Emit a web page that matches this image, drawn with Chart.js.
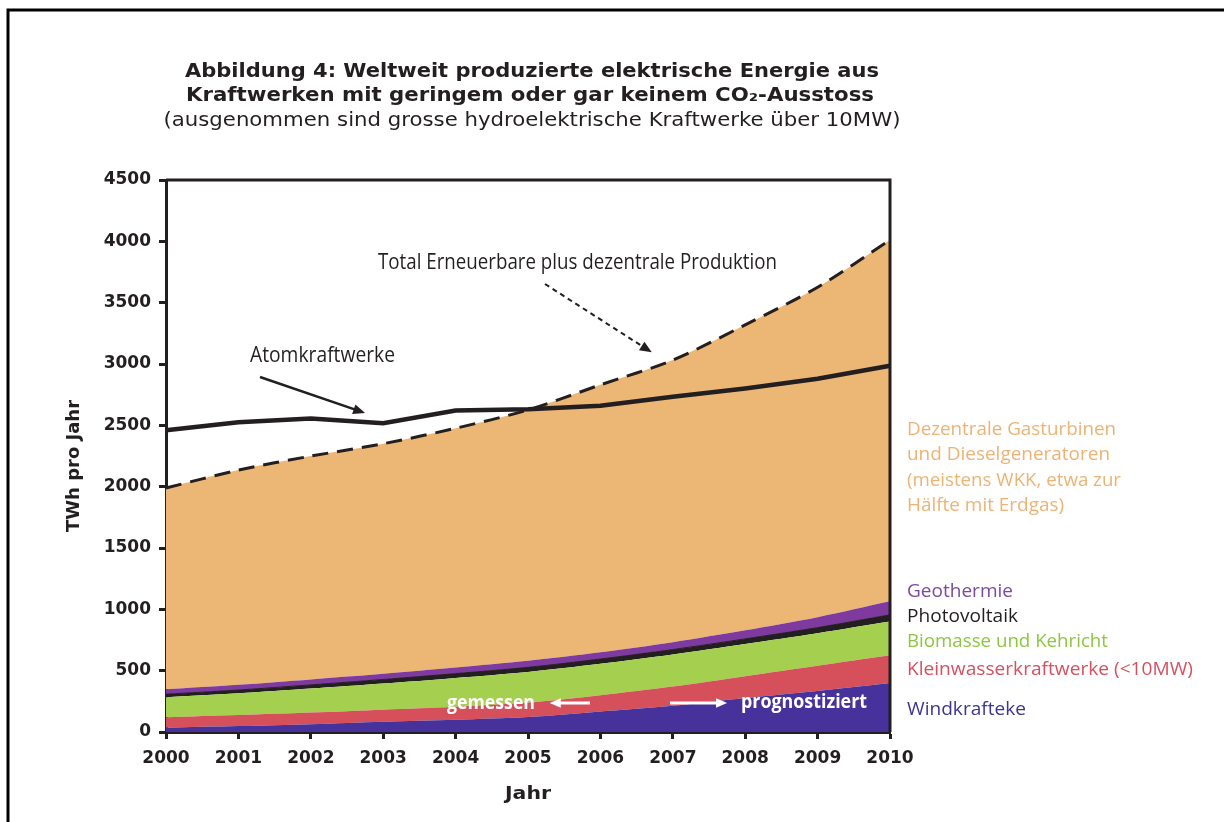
<!DOCTYPE html>
<html>
<head>
<meta charset="utf-8">
<script src="https://cdn.jsdelivr.net/npm/chart.js@4.4.1/dist/chart.umd.min.js"></script>
<style>
  html, body { margin: 0; padding: 0; background: #fff; }
  #wrap { width: 1224px; height: 822px; position: relative; }
</style>
</head>
<body>
<div id="wrap"><canvas id="energyChart" width="1224" height="822"></canvas></div>
<script>
// Jahre (x-Achse)
const years = ["2000", "2001", "2002", "2003", "2004", "2005", "2006", "2007", "2008", "2009", "2010"];

// TWh pro Jahr (gestapelt von unten nach oben)
const windkraft     = [35, 48, 64, 84, 100, 122, 168, 215, 278, 335, 400];
const kleinwasser   = [85, 90, 94, 98, 106, 118, 132, 155, 177, 205, 225];
const biomasse      = [163, 177, 196, 213, 235, 250, 256, 262, 262, 265, 275];
const photovoltaik  = [25, 27, 30, 33, 35, 37, 39, 40, 42, 46, 55];
const geothermie    = [41, 43, 45, 47, 50, 54, 55, 60, 70, 85, 110];
const dezentral     = [1640, 1750, 1820, 1875, 1950, 2045, 2180, 2300, 2490, 2690, 2945];

// Atomkraftwerke (nicht gestapelt)
const atomkraft     = [2460, 2525, 2555, 2517, 2620, 2632, 2660, 2733, 2800, 2880, 2986];

// y-Achse
const yTicks = [0, 500, 1000, 1500, 2000, 2500, 3000, 3500, 4000, 4500];

// Legende rechts: Text, Farbe, y-Mitte, Breite
const legendLines = [
    ["Dezentrale Gasturbinen", "#edb374", 430, 209],
    ["und Dieselgeneratoren", "#edb374", 455, 203],
    ["(meistens WKK, etwa zur", "#edb374", 481, 214],
    ["H\u00e4lfte mit Erdgas)", "#edb374", 506, 157],
    ["Geothermie", "#7b4a9e", 592, 106],
    ["Photovoltaik", "#231f20", 617, 111],
    ["Biomasse und Kehricht", "#8dc63f", 642, 201],
    ["Kleinwasserkraftwerke (<10MW)", "#d6505f", 670, 286],
    ["Windkrafteke", "#3e3592", 710, 119]
];

const INK = "#231f20";

// Text horizontal auf eine Breite bringen (Schmalschrift nachahmen)
function fitText(ctx, text, x, y, width, align) {
    const w = ctx.measureText(text).width;
    const s = width / w;
    ctx.save();
    let left = x;
    if (align === "center") left = x - width / 2;
    ctx.translate(left, y);
    ctx.scale(s, 1);
    ctx.textAlign = "left";
    ctx.fillText(text, 0, 0);
    ctx.restore();
}

function arrow(ctx, x1, y1, x2, y2, head, width, color, dash) {
    const ang = Math.atan2(y2 - y1, x2 - x1);
    ctx.save();
    ctx.strokeStyle = color;
    ctx.fillStyle = color;
    ctx.lineWidth = width;
    if (dash) ctx.setLineDash(dash);
    ctx.beginPath();
    ctx.moveTo(x1, y1);
    ctx.lineTo(x2 - Math.cos(ang) * head * 0.8, y2 - Math.sin(ang) * head * 0.8);
    ctx.stroke();
    ctx.setLineDash([]);
    ctx.beginPath();
    ctx.moveTo(x2, y2);
    ctx.lineTo(x2 - head * Math.cos(ang - 0.4), y2 - head * Math.sin(ang - 0.4));
    ctx.lineTo(x2 - head * Math.cos(ang + 0.4), y2 - head * Math.sin(ang + 0.4));
    ctx.closePath();
    ctx.fill();
    ctx.restore();
}

const decorPlugin = {
    id: "decor",
    beforeDraw(chart) {
        const ctx = chart.ctx;
        ctx.save();
        ctx.fillStyle = "#fff";
        ctx.fillRect(0, 0, chart.width, chart.height);
        // Rahmen oben und links
        ctx.strokeStyle = "#000";
        ctx.lineWidth = 3;
        ctx.beginPath();
        ctx.moveTo(8, 822);
        ctx.lineTo(8, 10);
        ctx.lineTo(1224, 10);
        ctx.stroke();
        ctx.restore();
    },
    afterDraw(chart) {
        const ctx = chart.ctx;
        const a = chart.chartArea;
        const xs = chart.scales.x;
        const ys = chart.scales.y;
        ctx.save();

        // Rahmen der Grafik oben und rechts
        ctx.strokeStyle = INK;
        ctx.lineWidth = 3;
        ctx.beginPath();
        ctx.moveTo(a.left, a.top);
        ctx.lineTo(a.right, a.top);
        ctx.lineTo(a.right, a.bottom);
        ctx.stroke();

        // Titel
        ctx.fillStyle = INK;
        ctx.textBaseline = "middle";
        ctx.font = "bold 20px 'DejaVu Sans'";
        fitText(ctx, "Abbildung 4: Weltweit produzierte elektrische Energie aus", 532, 72, 694, "center");
        fitText(ctx, "Kraftwerken mit geringem oder gar keinem CO\u2082-Ausstoss", 530, 96, 688, "center");
        ctx.font = "20px 'DejaVu Sans'";
        fitText(ctx, "(ausgenommen sind grosse hydroelektrische Kraftwerke \u00fcber 10MW)", 532, 121, 737, "center");

        // Achsentitel
        ctx.font = "bold 17px 'DejaVu Sans'";
        fitText(ctx, "Jahr", (a.left + a.right) / 2, 795, 46, "center");
        ctx.save();
        ctx.translate(75, 466);
        ctx.rotate(-Math.PI / 2);
        fitText(ctx, "TWh pro Jahr", 0, 0, 132, "center");
        ctx.restore();

        // Beschriftungen im Diagramm
        ctx.font = "21px 'Open Sans'";
        fitText(ctx, "Total Erneuerbare plus dezentrale Produktion", 378, 263, 399, "left");
        fitText(ctx, "Atomkraftwerke", 250, 356, 145, "left");
        arrow(ctx, 545, 284, xs.getPixelForValue(6.71), ys.getPixelForValue(3095), 13, 2, INK, [5, 4]);
        arrow(ctx, 260, 377, xs.getPixelForValue(2.75), ys.getPixelForValue(2600), 13, 2.5, INK, null);

        // gemessen / prognostiziert
        ctx.fillStyle = "#fff";
        ctx.font = "bold 20px 'Open Sans'";
        fitText(ctx, "gemessen", 447, 703, 88, "left");
        fitText(ctx, "prognostiziert", 741, 702, 126, "left");
        arrow(ctx, 590, 703, xs.getPixelForValue(5.3), 703, 12, 3, "#fff", null);
        arrow(ctx, 670, 703, xs.getPixelForValue(7.75), 703, 12, 3, "#fff", null);

        // Legende rechts
        ctx.font = "18px 'Open Sans'";
        legendLines.forEach(([text, color, y, w]) => {
            ctx.fillStyle = color;
            fitText(ctx, text, 907, y, w, "left");
        });

        ctx.restore();
    }
};

function area(label, data, color, fill) {
    return {
        label: label,
        data: data,
        backgroundColor: color,
        borderColor: color,
        borderWidth: 0,
        fill: fill,
        tension: 0.3,
        pointRadius: 0,
        stack: "energie"
    };
}

const tickFont = { family: "DejaVu Sans", weight: "bold", size: 17 };

const ctx = document.getElementById("energyChart").getContext("2d");
const chart = new Chart(ctx, {
    type: "line",
    data: {
        labels: years,
        datasets: [
            {
                label: "Atomkraftwerke",
                data: atomkraft,
                borderColor: INK,
                borderWidth: 4.5,
                fill: false,
                tension: 0,
                pointRadius: 0,
                stack: "atom"
            },
            area("Windkrafteke", windkraft, "#46329a", "origin"),
            area("Kleinwasserkraftwerke (<10MW)", kleinwasser, "#d5505b", "-1"),
            area("Biomasse und Kehricht", biomasse, "#a5cf4f", "-1"),
            Object.assign(area("Photovoltaik", photovoltaik, INK, "-1"), { borderWidth: 1 }),
            area("Geothermie", geothermie, "#7e3a9f", "-1"),
            Object.assign(area("Dezentrale Gasturbinen und Dieselgeneratoren", dezentral, "#ecb674", "-1"), {
                borderColor: INK,
                borderWidth: 3,
                borderDash: [16, 9]
            })
        ]
    },
    options: {
        responsive: false,
        animation: false,
        layout: { padding: { left: 0, top: 180, right: 334, bottom: 0 } },
        plugins: {
            legend: { display: false },
            tooltip: { enabled: false }
        },
        scales: {
            x: {
                offset: false,
                afterFit: (s) => { s.height = 90; },
                border: { display: true, color: INK, width: 3 },
                grid: { display: true, drawOnChartArea: false, drawTicks: true, tickLength: 7, tickWidth: 3, color: INK },
                ticks: { color: INK, font: tickFont, padding: 9, maxRotation: 0 }
            },
            y: {
                stacked: true,
                min: 0,
                max: 4500,
                afterFit: (s) => { s.width = 166; },
                afterBuildTicks: (s) => { s.ticks = yTicks.map(v => ({ value: v })); },
                border: { display: true, color: INK, width: 3 },
                grid: { display: true, drawOnChartArea: false, drawTicks: true, tickLength: 7, tickWidth: 3, color: INK },
                ticks: { color: INK, font: tickFont, padding: 8, callback: (v) => String(v) }
            }
        }
    },
    plugins: [decorPlugin]
});
</script>
</body>
</html>
